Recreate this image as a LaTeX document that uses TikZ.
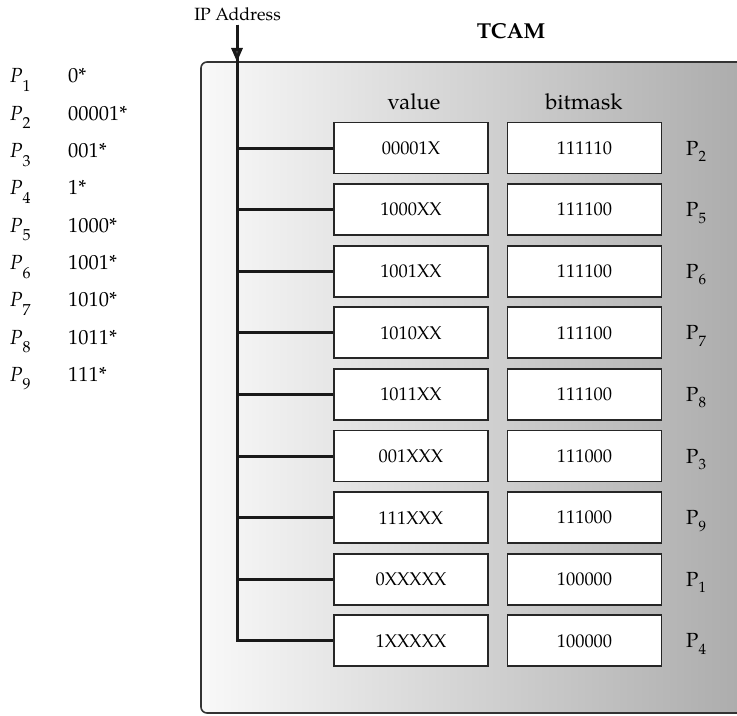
\documentclass[tikz,border=0pt]{standalone}
\usepackage{fontspec}
\setmainfont{TeX Gyre Pagella}
\usetikzlibrary{arrows.meta}
\newcommand{\lsub}[1]{\raisebox{-8.5bp}{\fontsize{16}{16}\selectfont #1}}
\newcommand{\rsub}[1]{\raisebox{-6.5bp}{\fontsize{15}{15}\selectfont #1}}
\begin{document}
\begin{tikzpicture}[x=1bp,y=-1bp,
  cell/.style={draw=black!85, line width=1.8bp, fill=white, minimum width=154bp,
    minimum height=51bp, inner sep=0pt, font=\fontsize{18.5}{18.5}\selectfont},
  wire/.style={line width=3bp, draw=black!90},
  head/.style={font=\fontsize{22}{22}\selectfont, anchor=base, inner sep=0pt},
  lst/.style={font=\fontsize{20.5}{20.5}\selectfont, anchor=base west, inner sep=0pt},
  plab/.style={font=\fontsize{20.5}{20.5}\selectfont, anchor=base west, inner sep=0pt},
  tcambox/.style={draw=black!80, line width=1.6bp, rounded corners=6bp,
    left color=gray!5, right color=gray!68}]
\useasboundingbox (0,0) rectangle (737,716);
% TCAM enclosure
\path[tcambox] (201,62) rectangle (770,713);
\node[head, font=\fontsize{21.7}{21.7}\selectfont\bfseries] (tcam) at (511,39) {TCAM};
\node[head] (hval) at (414,110) {value};
\node[head] (hmask) at (584,110) {bitmask};
% prefix list
\foreach \p/\s [count=\k from 0] in {1/0*,2/00001*,3/001*,4/1*,5/1000*,6/1001*,7/1010*,8/1011*,9/111*} {
  \node[lst] (lp\k) at (10,{83+37.3*\k}) {\textit{P}\lsub{\p}};
  \node[lst] (ls\k) at (68,{83+37.3*\k}) {\s};
}
% rows
\foreach \v/\m/\p [count=\i from 0] in {00001X/111110/2,1000XX/111100/5,1001XX/111100/6,
  1010XX/111100/7,1011XX/111100/8,001XXX/111000/3,111XXX/111000/9,0XXXXX/100000/1,1XXXXX/100000/4} {
  \node[cell] (v\i) at (411,{148+61.6*\i}) {\v};
  \node[cell] (m\i) at (584.5,{148+61.6*\i}) {\m};
  \node[plab] (p\i) at (686,{155+61.6*\i}) {P\rsub{\p}};
  \coordinate (j\i) at (237,{148+61.6*\i});
}
% IP address input
\node[inner sep=0pt, font=\fontsize{17.8}{17.8}\selectfont, anchor=base] (ip) at (237.5,21) {IP Address};
\coordinate (top) at (237,62);
\path (ip.south -| top) ++(0,3) coordinate (ipstart);
\draw[wire] (ipstart) -- (j8) -- (v8.west);
\foreach \i in {0,...,7} { \draw[wire] (j\i) -- (v\i.west); }
\draw[line width=3bp, draw=black!90, -{Triangle[length=14bp,width=11bp,fill=black!75]}] (ipstart) -- (top);
\end{tikzpicture}
\end{document}
